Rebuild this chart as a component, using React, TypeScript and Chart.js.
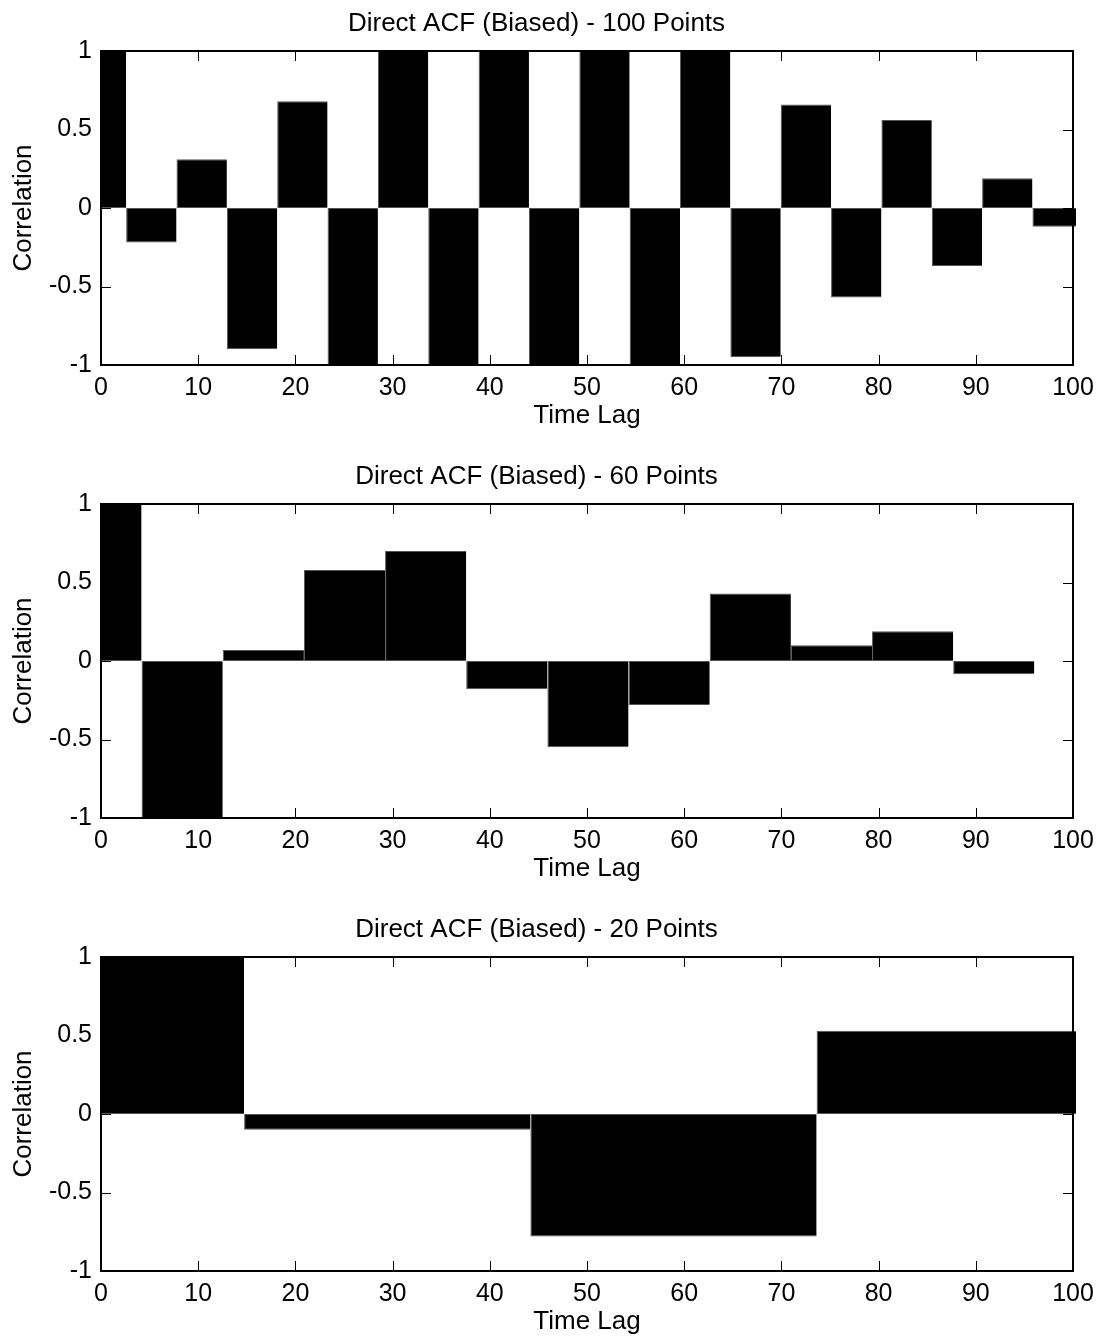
import { useEffect, useRef } from 'react';
import { Chart, registerables } from 'chart.js';

Chart.register(...registerables);

const FONT = '"Liberation Sans", Arial, Helvetica, sans-serif';

// ---- Data ----
const titles = [
  'Direct ACF (Biased) - 100 Points',
  'Direct ACF (Biased) - 60 Points',
  'Direct ACF (Biased) - 20 Points',
];

const lags100 = [0, 5.18, 10.36, 15.54, 20.72, 25.9, 31.08, 36.26, 41.44, 46.62, 51.8, 56.98, 62.16, 67.34, 72.52, 77.7, 82.88, 88.06, 93.24, 98.42];
const acf100 = [1, -0.22, 0.31, -0.9, 0.68, -1, 1, -1, 1, -1, 1, -1, 1, -0.95, 0.66, -0.57, 0.56, -0.37, 0.19, -0.12];

const lags60 = [0, 8.35, 16.7, 25.05, 33.4, 41.75, 50.1, 58.45, 66.8, 75.15, 83.5, 91.85];
const acf60 = [1, -1, 0.07, 0.58, 0.7, -0.18, -0.55, -0.28, 0.43, 0.1, 0.19, -0.085];

const lags20 = [0, 29.45, 58.9, 88.35];
const acf20 = [1, -0.1, -0.78, 0.53];

const xMin = 0;
const xMax = 100;
const xStep = 10;
const yMin = -1;
const yMax = 1;
const yStep = 0.5;

const xLabel = 'Time Lag';
const yLabel = 'Correlation';

const panels = [
  { title: titles[0], lags: lags100, values: acf100 },
  { title: titles[1], lags: lags60, values: acf60 },
  { title: titles[2], lags: lags20, values: acf20 },
];

// ---- Layout constants ----
const W = 1102;
const PANEL_H = 453;
const TOTAL_H = 1339;

const boxPlugin = {
  id: 'matlabBox',
  afterDatasetsDraw(chart: any) {
    const { ctx, chartArea: a, scales } = chart;
    const x = scales.x;
    const y = scales.y;
    const len = 10;
    ctx.save();
    ctx.strokeStyle = '#000';
    ctx.lineWidth = 1;
    ctx.beginPath();
    x.ticks.forEach((t: any) => {
      const px = Math.round(x.getPixelForValue(t.value)) + 0.5;
      if (px <= a.left + 2 || px >= a.right - 2) return;
      ctx.moveTo(px, a.bottom);
      ctx.lineTo(px, a.bottom - len);
      ctx.moveTo(px, a.top);
      ctx.lineTo(px, a.top + len);
    });
    y.ticks.forEach((t: any) => {
      const py = Math.round(y.getPixelForValue(t.value)) + 0.5;
      if (py <= a.top + 2 || py >= a.bottom - 2) return;
      ctx.moveTo(a.left, py);
      ctx.lineTo(a.left + len, py);
      ctx.moveTo(a.right, py);
      ctx.lineTo(a.right - len, py);
    });
    ctx.stroke();
    ctx.lineWidth = 2;
    ctx.strokeRect(a.left, a.top, a.right - a.left, a.bottom - a.top);
    ctx.restore();
  },
};

function makeConfig(title: string, lags: number[], values: number[]): any {
  const data = lags.map((x, i) => ({ x, y: values[i] }));
  return {
    type: 'bar',
    data: {
      datasets: [
        {
          data,
          backgroundColor: '#000',
          borderColor: '#555',
          borderWidth: { left: 1, top: 1, bottom: 1, right: 0 },
          borderSkipped: false,
          barThickness: 'flex',
          barPercentage: 1,
          categoryPercentage: 1,
          inflateAmount: 0,
          clip: { left: 0, top: 0, right: 3, bottom: 2 },
        },
      ],
    },
    options: {
      animation: false,
      responsive: false,
      maintainAspectRatio: false,
      events: [],
      layout: { padding: { left: 0, right: 29, top: 0, bottom: 0 } },
      plugins: {
        legend: { display: false },
        tooltip: { enabled: false },
        title: {
          display: true,
          text: title,
          color: '#000',
          font: { family: FONT, size: 26, weight: 'normal', lineHeight: 1.2 },
          padding: { top: 7.9, bottom: 11.9 },
        },
      },
      scales: {
        x: {
          type: 'linear',
          min: xMin,
          max: xMax,
          offset: false,
          grid: { display: false, drawTicks: false, offset: false },
          border: { display: false },
          ticks: {
            stepSize: xStep,
            autoSkip: false,
            maxRotation: 0,
            minRotation: 0,
            padding: 7.8,
            color: '#000',
            font: { family: FONT, size: 25, lineHeight: 1.2 },
            callback: (v: number) => String(v),
          },
          title: {
            display: true,
            text: xLabel,
            color: '#000',
            font: { family: FONT, size: 26, lineHeight: 1.2 },
            padding: { top: 0, bottom: 21.2 },
          },
          afterFit: (s: any) => {
            s.height = PANEL_H - 365;
          },
        },
        y: {
          type: 'linear',
          min: yMin,
          max: yMax,
          grid: { display: false, drawTicks: false },
          border: { display: false },
          ticks: {
            stepSize: yStep,
            autoSkip: false,
            padding: 9,
            color: '#000',
            font: { family: FONT, size: 25, lineHeight: 1.2 },
            callback: (v: number) => String(Math.round(v * 100) / 100),
          },
          title: {
            display: true,
            text: yLabel,
            color: '#000',
            font: { family: FONT, size: 26, lineHeight: 1.2 },
            padding: { top: 8.7, bottom: 0 },
          },
          afterFit: (s: any) => {
            s.width = 101;
          },
        },
      },
    },
    plugins: [boxPlugin],
  };
}

function Panel({ title, lags, values, top }: { title: string; lags: number[]; values: number[]; top: number }) {
  const ref = useRef<HTMLCanvasElement | null>(null);
  useEffect(() => {
    if (!ref.current) return;
    const chart = new Chart(ref.current, makeConfig(title, lags, values));
    return () => chart.destroy();
  }, [title, lags, values]);
  return (
    <canvas
      ref={ref}
      width={W}
      height={PANEL_H}
      style={{ position: 'absolute', left: 0, top, width: W, height: PANEL_H, display: 'block' }}
    />
  );
}

export default function App() {
  return (
    <div
      style={{
        position: 'absolute',
        left: 0,
        top: 0,
        width: W,
        height: TOTAL_H,
        overflow: 'hidden',
        background: '#fff',
      }}
    >
      {panels.map((p, i) => (
        <Panel key={i} title={p.title} lags={p.lags} values={p.values} top={i * PANEL_H} />
      ))}
    </div>
  );
}
